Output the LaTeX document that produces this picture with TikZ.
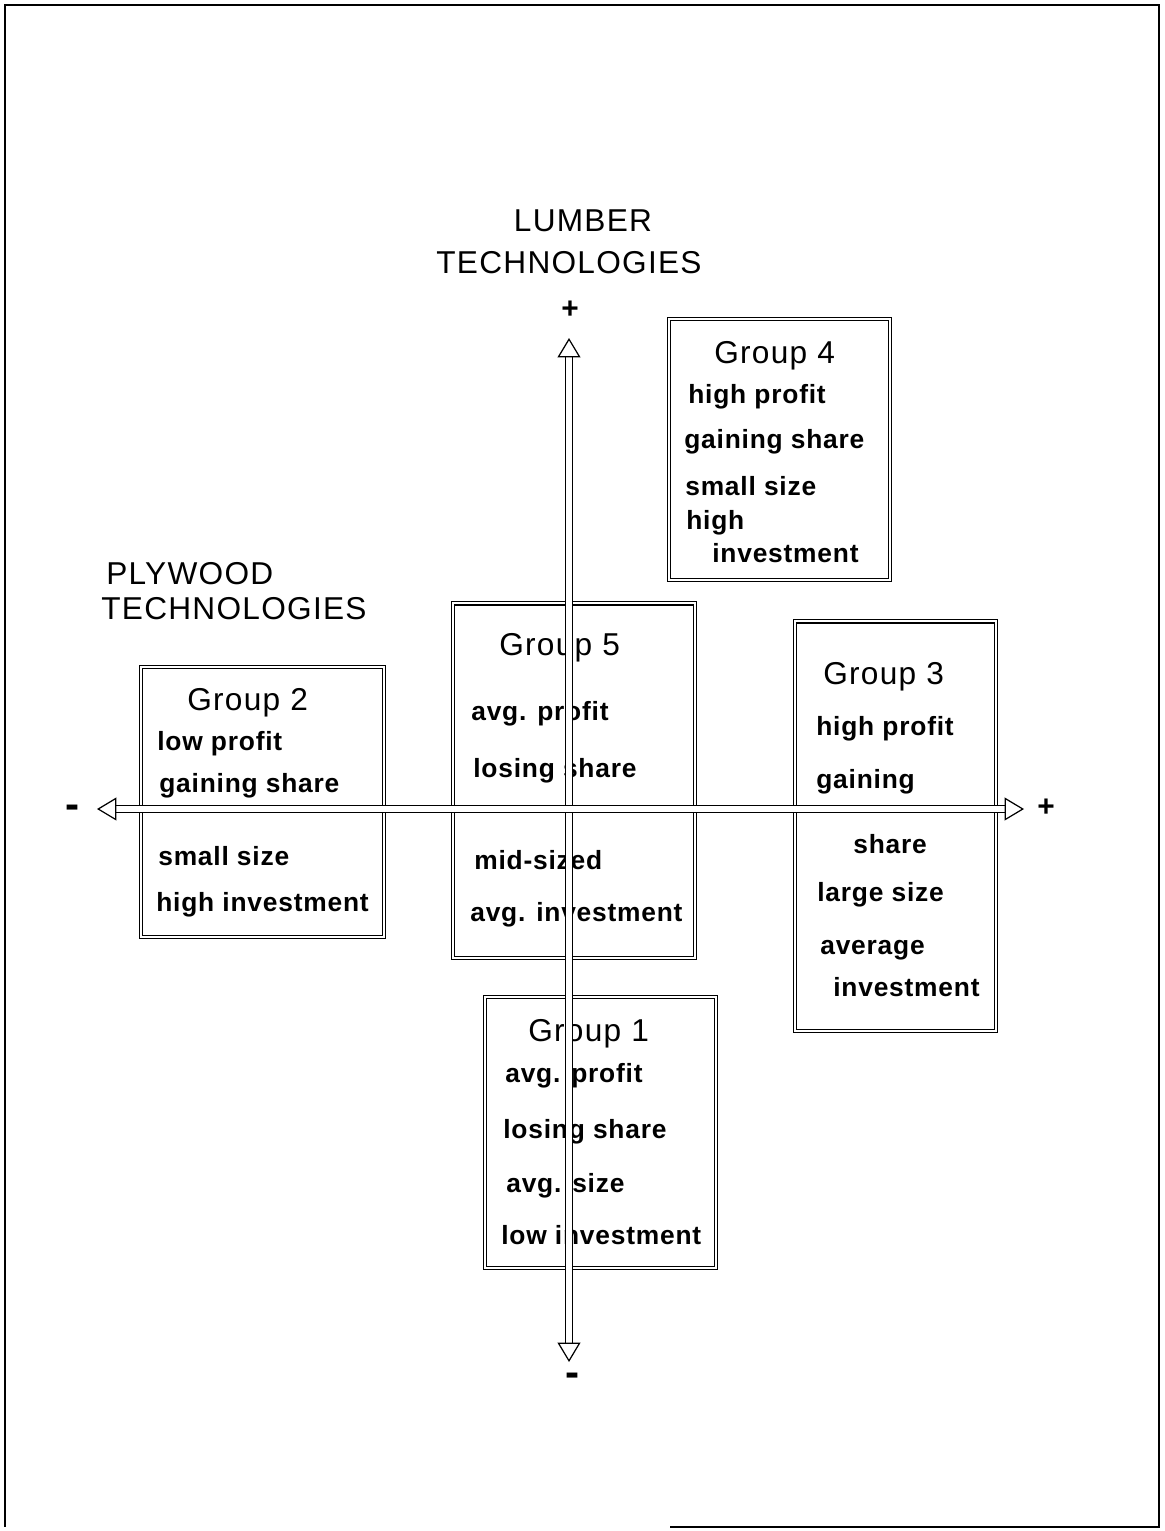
\documentclass[tikz,border=0pt]{standalone}
\usepackage{fontspec}
\setmainfont{Liberation Sans}
\newfontfamily\itemfont[LetterSpace=3]{Liberation Sans}
\newfontfamily\headfont[LetterSpace=4]{Liberation Sans}
\usetikzlibrary{arrows.meta,positioning}

\begin{document}
\begin{tikzpicture}[
    x=0.02cm, y=-0.02cm,
    grp/.style={draw, line width=0.6pt, double, double distance=1.6pt, inner sep=0pt},
    item/.style={anchor=west, inner sep=0pt, yshift=-1.7pt, font=\itemfont\bfseries\fontsize{15}{18}\selectfont},
    head/.style={anchor=west, inner sep=0pt, yshift=-1.7pt, font=\headfont\fontsize{18}{21}\selectfont},
    title/.style={inner sep=0pt, font=\headfont\fontsize{18}{22}\selectfont},
    sign/.style={inner sep=0pt, font=\bfseries\fontsize{17}{18}\selectfont},
    axis/.style={line width=0.7pt, double, double distance=3.6pt,
        {Triangle[open, length=11pt, width=13pt]}-{Triangle[open, length=11pt, width=13pt]}}
]
\useasboundingbox (0,0) rectangle (1164,1531);

% frame
\draw[line width=1.1pt] (670,1527) -- (1159,1527) -- (1159,5) -- (5,5) -- (5,1527);

% titles
\node[title] (lum) at (583,221) {LUMBER};
\node[title] (lumt) at (569,263) {TECHNOLOGIES};
\node[title, anchor=west] (ply) at (106,574) {PLYWOOD};
\node[title, anchor=west] (plyt) at (101,609) {TECHNOLOGIES};

% boxes
\node[grp, minimum width=4.42cm, minimum height=5.22cm] (g4) at (779.5,449.5) {};
\node[grp, minimum width=4.84cm, minimum height=7.10cm] (g5) at (574,780.5) {};
\node[grp, minimum width=4.86cm, minimum height=5.40cm] (g2) at (262.5,802) {};
\node[grp, minimum width=4.02cm, minimum height=8.20cm] (g3) at (895.5,826) {};
\node[grp, minimum width=4.62cm, minimum height=5.42cm] (g1) at (600.5,1132.5) {};

% Group 4
\node[head] (g4h) at (714,353) {Group 4};
\node[item] (g4a) at (688,394) {high profit};
\node[item] (g4b) at (684,439) {gaining share};
\node[item] (g4c) at (685,483) {small size};
\node[item] (g4d) at (686,520) {high};
\node[item] (g4e) at (712,550) {investment};

% Group 5
\node[head] (g5h) at (499,645) {Group 5};
\node[item] (g5a) at (471,711) {avg. profit};
\node[item] (g5b) at (473,768) {losing share};
\node[item] (g5c) at (474,857) {mid-sized};
\node[item] (g5d) at (470,912) {avg. investment};

% Group 2
\node[head] (g2h) at (187,700) {Group 2};
\node[item] (g2a) at (157,741) {low profit};
\node[item] (g2b) at (159,783) {gaining share};
\node[item] (g2c) at (158,853) {small size};
\node[item] (g2d) at (156,902) {high investment};

% Group 3
\node[head] (g3h) at (823,674) {Group 3};
\node[item] (g3a) at (816,726) {high profit};
\node[item] (g3b) at (816,779) {gaining};
\node[item] (g3c) at (853,841) {share};
\node[item] (g3d) at (817,892) {large size};
\node[item] (g3e) at (820,947) {average};
\node[item] (g3f) at (833,984) {investment};

% Group 1
\node[head] (g1h) at (528,1031) {Group 1};
\node[item] (g1a) at (505,1073) {avg. profit};
\node[item] (g1b) at (503,1129) {losing share};
\node[item] (g1c) at (506,1183) {avg. size};
\node[item] (g1d) at (501,1232) {low investment};

% axes
\coordinate (vtop) at (569,338);
\coordinate (vbot) at (569,1362);
\coordinate (hlft) at (97,809);
\coordinate (hrgt) at (1024,809);
\draw[axis] (vbot) -- (vtop);
\draw[axis] (hlft) -- (hrgt);

\node[sign] (vplus) at (570,310) {+};
\node[sign, font=\bfseries\fontsize{24}{24}\selectfont] (vminus) at (573,1380) {-};
\node[sign, font=\bfseries\fontsize{24}{24}\selectfont] (hminus) at (73,812) {-};
\node[sign] (hplus) at (1046,808) {+};
\end{tikzpicture}
\end{document}
